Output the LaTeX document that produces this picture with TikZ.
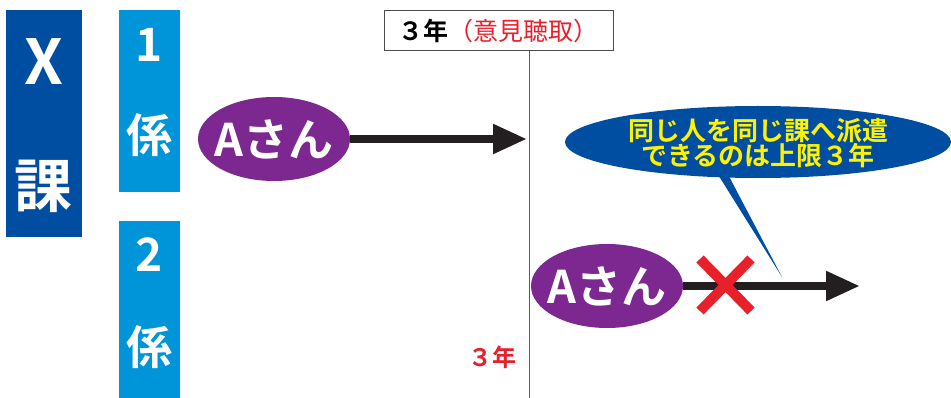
\documentclass[tikz,border=0pt]{standalone}
\usepackage{fontspec}
\newfontfamily\jp{Noto Sans CJK JP}[BoldFont=* Bold]
\usetikzlibrary{shapes.geometric,arrows.meta}
\definecolor{xblue}{HTML}{004EA2}
\definecolor{kblue}{HTML}{0095D9}
\definecolor{apurple}{HTML}{7D2890}
\definecolor{xred}{HTML}{E8202A}
\definecolor{arrblack}{HTML}{231F20}
\definecolor{cyellow}{HTML}{FFF100}
\tikzset{
  band/.style={rectangle, inner sep=0pt, anchor=north west},
  bandtext/.style={text=white, font=\jp\bfseries, inner sep=0pt},
  person/.style={ellipse, fill=apurple, inner sep=0pt, minimum width=152pt, minimum height=84pt},
  persontext/.style={inner sep=0pt, text=white, font=\jp\bfseries\fontsize{45}{45}\selectfont},
  flow/.style={draw=arrblack, line width=8pt, -{Triangle[length=34pt,width=28pt]}},
  cross/.style={draw=xred, line width=10pt},
}
\begin{document}
\begin{tikzpicture}[x=1pt,y=-1pt]
\useasboundingbox (0,0) rectangle (951,398);
% X課
\node[band, fill=xblue, minimum width=76pt, minimum height=227pt] (xka) at (6,10) {};
\node[bandtext, font=\jp\bfseries\fontsize{62}{62}\selectfont] (xlab) at (44,62) {X};
\node[bandtext, font=\jp\bfseries\fontsize{58}{58}\selectfont] (kalab) at (44,186) {課};
% 1係
\node[band, fill=kblue, minimum width=61pt, minimum height=182pt] (k1) at (119,10) {};
\node[bandtext, font=\jp\bfseries\fontsize{46}{46}\selectfont] (k1n) at (149.5,45) {1};
\node[bandtext, font=\jp\bfseries\fontsize{46}{46}\selectfont] (k1k) at (149.5,135) {係};
% 2係
\node[band, fill=kblue, minimum width=61pt, minimum height=177pt] (k2) at (119,221) {};
\node[bandtext, font=\jp\bfseries\fontsize{46}{46}\selectfont] (k2n) at (149.5,255) {2};
\node[bandtext, font=\jp\bfseries\fontsize{46}{46}\selectfont] (k2k) at (149.5,347) {係};
% top box
\node[rectangle, draw=black!70, line width=1pt, minimum width=229pt, minimum height=40pt, inner sep=0pt, font=\jp\bfseries\fontsize{25}{25}\selectfont] (top) at (498.5,31) {３年\textcolor{xred}{\mdseries（意見聴取）}};
\coordinate (lineend) at (529,398);
\draw[xred, line width=0.8pt] (top.south -| lineend) -- (lineend);
% red 3年
\node[text=xred, font=\jp\bfseries\fontsize{24}{24}\selectfont, inner sep=0pt] (y3) at (492,357) {３年};
% persons
\node[person] (a1) at (274,139) {};
\node[persontext] (a1t) at (a1.center) {Aさん};
\coordinate (a1end) at (527,139);
\draw[flow] (a1.east) -- (a1end);
\node[person] (a2) at (607,286) {};
\node[persontext] (a2t) at (a2.center) {Aさん};
\coordinate (a2end) at (860,286);
\draw[flow] (a2.east) -- (a2end);
% cross
\coordinate (c1) at (700,259);
\coordinate (c2) at (751,311);
\coordinate (c3) at (751,259);
\coordinate (c4) at (700,311);
\draw[cross] (c1) -- (c2);
\draw[cross] (c3) -- (c4);
% callout
\coordinate (tip) at (782,277);
\fill[xblue] (712,165) -- (723,165) -- (tip) -- cycle;
\node[ellipse, fill=xblue, inner sep=0pt, minimum width=386pt, minimum height=72pt] (call) at (758,142) {};
\node[text=cyellow, font=\jp\bfseries\fontsize{26}{23}\selectfont, align=center, inner sep=0pt] (calltext) at (758,143) {同じ人を同じ課へ派遣\\できるのは上限３年};
\end{tikzpicture}
\end{document}
